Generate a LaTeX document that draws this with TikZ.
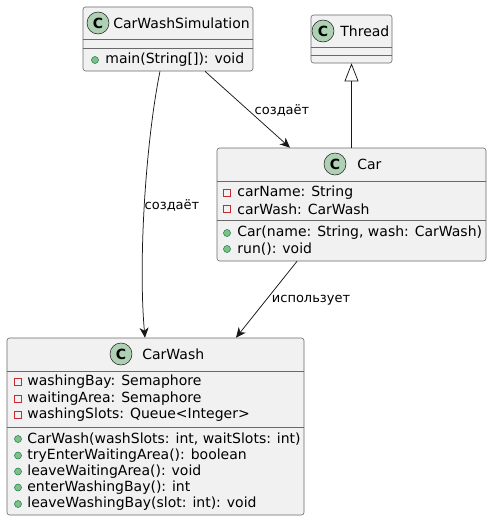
\documentclass[tikz,border=0pt]{standalone}
\usepackage{fontspec}
\setmainfont{DejaVu Sans}
\usetikzlibrary{arrows.meta,calc}
\definecolor{umlfill}{HTML}{F1F1F1}
\definecolor{umlline}{HTML}{181818}
\definecolor{iconfill}{HTML}{ADD1B2}
\definecolor{privred}{HTML}{C82930}
\definecolor{pubfill}{HTML}{84BE84}
\definecolor{publine}{HTML}{038048}

\tikzset{every picture/.style={line width=0.75pt}}

\begin{document}
\begin{tikzpicture}[x=1pt,y=1pt,yscale=-1,
  classbox/.style={draw=umlline!65, line width=0.6pt, fill=umlfill, rounded corners=2.5pt, inner sep=0pt},
  sepline/.style={draw=umlline!65, line width=0.6pt},
  icon/.style={circle, draw=umlline, line width=0.5pt, fill=iconfill, minimum size=22pt, inner sep=0pt, font=\fontsize{14}{14}\selectfont\bfseries},
  cname/.style={anchor=west, inner sep=0pt, font=\fontsize{14}{16}\selectfont},
  member/.style={anchor=west, inner sep=0pt, font=\fontsize{14}{16}\selectfont},
  priv/.style={draw=privred, line width=0.8pt, minimum size=6.5pt, inner sep=0pt},
  pub/.style={circle, draw=publine, line width=0.5pt, fill=pubfill, minimum size=7pt, inner sep=0pt},
  assoc/.style={draw=umlline, -{Stealth[length=10pt,width=9pt,inset=3pt]}},
  extends/.style={draw=umlline, -{Triangle[open,length=18pt,width=14pt,fill=white]}},
  lbl/.style={inner sep=0pt, font=\fontsize{13}{15}\selectfont}
]
\useasboundingbox (0,0) rectangle (491,522);

%Class: CarWashSimulation
\node [classbox, minimum width=170pt, minimum height=64pt] (sim) at (168,39) {};
\draw [sepline] (sim.west |- 0,39) -- (sim.east |- 0,39) ;
\draw [sepline] (sim.west |- 0,48) -- (sim.east |- 0,48) ;
\node [icon] (simicon) at (98,23) {C};
\node [cname] (simname) at (113,23) {CarWashSimulation};
\node [pub] (simm1) at (95,60) {};
\node [member] (simm1t) at (105,60) {main(String[]): void};

%Class: Thread
\node [classbox, minimum width=81pt, minimum height=48pt] (thread) at (351.5,39) {};
\draw [sepline] (thread.west |- 0,47) -- (thread.east |- 0,47) ;
\draw [sepline] (thread.west |- 0,55) -- (thread.east |- 0,55) ;
\node [icon] (threadicon) at (323,31) {C};
\node [cname] (threadname) at (340,31) {Thread};

%Class: Car
\node [classbox, minimum width=269pt, minimum height=113pt] (car) at (351.5,204.5) {};
\draw [sepline] (car.west |- 0,181) -- (car.east |- 0,181) ;
\draw [sepline] (car.west |- 0,220) -- (car.east |- 0,220) ;
\node [icon] (caricon) at (335,164) {C};
\node [cname] (carname) at (357,164) {Car};
\node [priv] (cara1) at (227,193) {};
\node [member] (cara1t) at (237,193) {carName: String};
\node [priv] (cara2) at (227,209) {};
\node [member] (cara2t) at (237,209) {carWash: CarWash};
\node [pub] (carm1) at (227,233) {};
\node [member] (carm1t) at (237,233) {Car(name: String, wash: CarWash)};
\node [pub] (carm2) at (227,249) {};
\node [member] (carm2t) at (237,249) {run(): void};

%Class: CarWash
\node [classbox, minimum width=297pt, minimum height=177pt] (wash) at (155.5,426.5) {};
\draw [sepline] (wash.west |- 0,371) -- (wash.east |- 0,371) ;
\draw [sepline] (wash.west |- 0,427) -- (wash.east |- 0,427) ;
\node [icon] (washicon) at (121,354) {C};
\node [cname] (washname) at (142,354) {CarWash};
\node [priv] (washa1) at (18,382) {};
\node [member] (washa1t) at (27,382) {washingBay: Semaphore};
\node [priv] (washa2) at (18,399) {};
\node [member] (washa2t) at (27,399) {waitingArea: Semaphore};
\node [priv] (washa3) at (18,415) {};
\node [member] (washa3t) at (27,415) {washingSlots: Queue<Integer>};
\node [pub] (washm1) at (18,439) {};
\node [member] (washm1t) at (27,439) {CarWash(washSlots: int, waitSlots: int)};
\node [pub] (washm2) at (18,455.5) {};
\node [member] (washm2t) at (27,455.5) {tryEnterWaitingArea(): boolean};
\node [pub] (washm3) at (18,471.5) {};
\node [member] (washm3t) at (27,471.5) {leaveWaitingArea(): void};
\node [pub] (washm4) at (18,487.5) {};
\node [member] (washm4t) at (27,487.5) {enterWashingBay(): int};
\node [pub] (washm5) at (18,504) {};
\node [member] (washm5t) at (27,504) {leaveWashingBay(slot: int): void};

%Connectors
\draw [assoc] ($(sim.south)+(-8,0)$) .. controls (146,140) and (138,260) .. ($(wash.north)+(-10.5,0)$) ;
\draw [assoc] ($(sim.south)+(37,0)$) -- ($(car.north)+(-61.5,0)$) ;
\draw [extends] (car.north) -- (thread.south) ;
\draw [assoc] ($(car.south)+(-54.5,0)$) -- ($(wash.north)+(80.5,0)$) ;

% Text Node
\node [lbl] (lblsimwash) at (172,205) {создаёт};
% Text Node
\node [lbl] (lblsimcar) at (282,110) {создаёт};
% Text Node
\node [lbl] (lblcarwash) at (311,300) {использует};

\end{tikzpicture}
\end{document}
